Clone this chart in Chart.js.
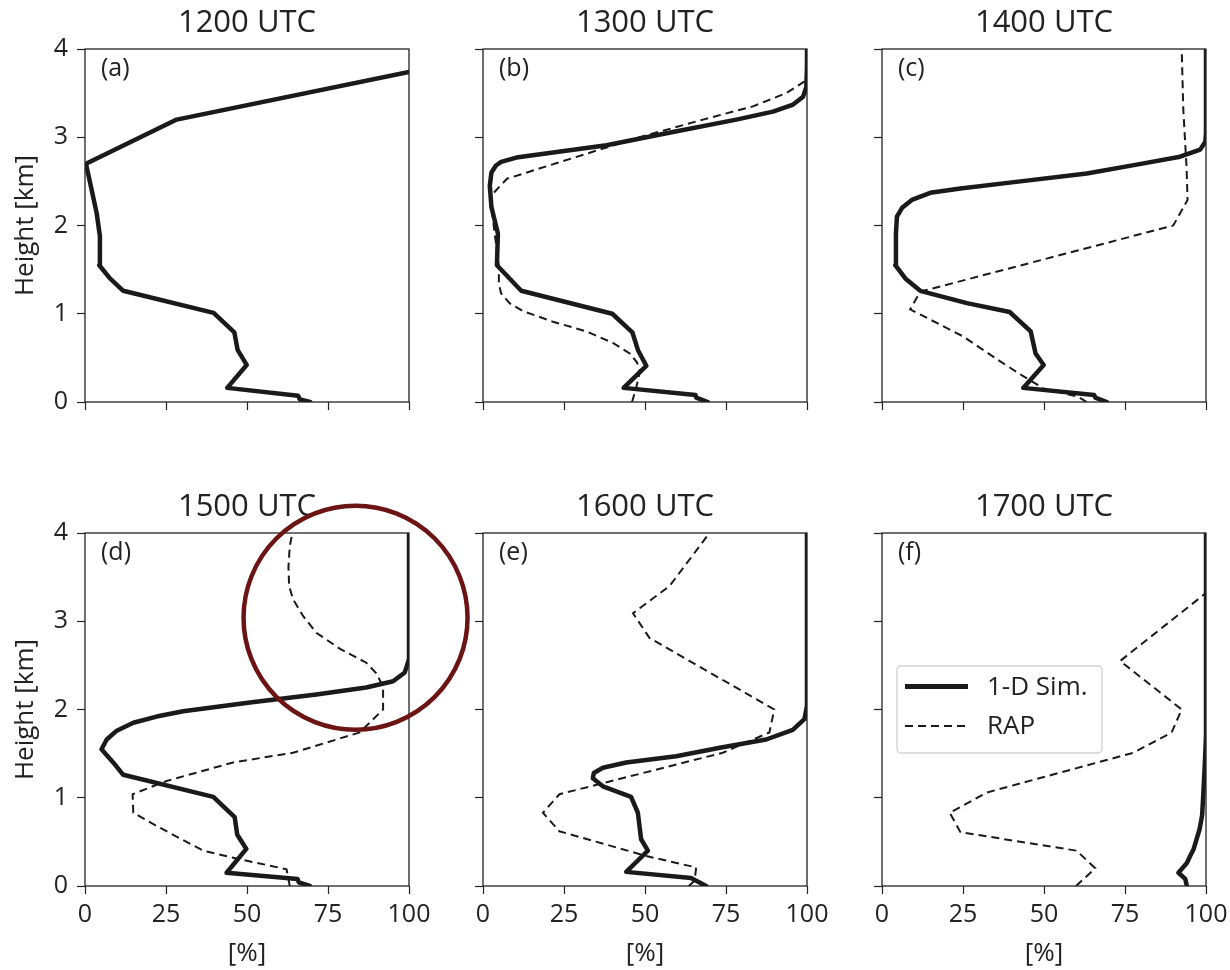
<!DOCTYPE html>
<html>
<head>
<meta charset="utf-8">
<script src="https://cdn.jsdelivr.net/npm/chart.js@4.4.1/dist/chart.umd.min.js"></script>
<style>
  html, body { margin: 0; padding: 0; background: #fff; }
  body { width: 1230px; height: 970px; overflow: hidden; position: relative; }
  canvas { position: absolute; }
</style>
</head>
<body>
<script>
// ---- profile data: height levels [km] and values [%] ----
const simA_height = [0, 0.03, 0.07, 0.16, 0.42, 0.59, 0.79, 1.01, 1.26, 1.40, 1.55, 1.88, 2.14, 2.70, 3.20, 3.74];
const simA_value  = [69.5, 66.3, 65.8, 43.9, 49.9, 47.1, 46.1, 39.7, 11.8, 7.7, 4.4, 4.6, 3.6, 0.3, 28.3, 100];

const simB_height = [0, 0.05, 0.08, 0.16, 0.41, 0.59, 0.79, 1.00, 1.26, 1.55, 1.91, 2.21, 2.45, 2.60, 2.68, 2.72, 2.77, 2.91, 3.06, 3.20, 3.29, 3.37, 3.46, 3.57, 3.80, 4.0];
const simB_value  = [69.4, 65.8, 65.6, 43.4, 50.4, 47.8, 46.1, 39.9, 11.8, 4.3, 4.6, 2.6, 2.1, 2.6, 4.0, 5.6, 10.3, 38.1, 58.6, 78.2, 89.5, 95.7, 98.8, 99.8, 100, 100];
const rapB_height = [0, 0.15, 0.35, 0.45, 0.55, 0.67, 0.80, 0.91, 1.03, 1.12, 1.23, 1.34, 1.54, 1.91, 2.29, 2.37, 2.53, 2.99, 3.20, 3.35, 3.50, 3.65, 4.0];
const rapB_value  = [46.0, 47.2, 48.5, 47.5, 45.3, 40.1, 31.9, 21.6, 12.3, 8.2, 5.6, 4.9, 4.9, 3.6, 2.4, 3.3, 7.4, 47.3, 67.9, 83.3, 93.6, 100, 100];

const simC_height = [0, 0.05, 0.08, 0.16, 0.42, 0.55, 0.80, 1.02, 1.12, 1.26, 1.40, 1.55, 1.90, 2.10, 2.20, 2.29, 2.37, 2.42, 2.50, 2.59, 2.69, 2.78, 2.86, 2.95, 3.05, 4.0];
const simC_value  = [69.4, 65.8, 65.5, 43.6, 49.9, 47.4, 45.9, 39.4, 26.2, 11.8, 7.2, 4.1, 4.3, 4.6, 6.2, 9.2, 14.9, 24.2, 42.7, 63.2, 78.6, 92.0, 98.2, 99.8, 100, 100];
const rapC_height = [0, 0.06, 0.15, 0.20, 0.29, 0.46, 0.74, 1.05, 1.25, 2.00, 2.29, 2.66, 3.31, 4.0];
const rapC_value  = [63.2, 60.5, 50.0, 47.8, 43.7, 36.5, 25.2, 8.7, 11.8, 89.9, 94.3, 94.0, 93.0, 92.5];

const simD_height = [0, 0.04, 0.08, 0.15, 0.42, 0.58, 0.78, 1.01, 1.26, 1.40, 1.55, 1.66, 1.76, 1.85, 1.92, 1.98, 2.08, 2.17, 2.25, 2.32, 2.42, 2.57, 4.0];
const simD_value  = [69.4, 66.0, 65.6, 43.7, 49.8, 47.0, 46.2, 39.6, 11.8, 8.7, 5.1, 6.7, 9.8, 14.9, 22.1, 30.3, 50.9, 71.4, 86.8, 95.1, 98.7, 100, 100];
const rapD_height = [0, 0.19, 0.32, 0.40, 0.66, 0.83, 1.04, 1.19, 1.40, 1.51, 1.74, 2.00, 2.26, 2.41, 2.53, 2.69, 2.87, 3.06, 3.25, 3.40, 3.62, 3.85, 4.0];
const rapD_value  = [63.2, 62.2, 45.7, 36.5, 23.1, 14.9, 14.7, 25.2, 45.7, 64.2, 84.8, 92.0, 92.0, 89.9, 86.8, 78.6, 71.4, 67.3, 64.2, 63.0, 62.8, 63.2, 64.0];

const simE_height = [0, 0.06, 0.09, 0.16, 0.40, 0.53, 0.83, 1.01, 1.13, 1.22, 1.28, 1.34, 1.40, 1.47, 1.57, 1.66, 1.77, 1.89, 2.04, 4.0];
const simE_value  = [68.9, 65.8, 64.2, 44.2, 50.9, 48.8, 47.8, 45.7, 37.0, 33.9, 34.2, 37.0, 44.2, 59.6, 73.5, 87.4, 95.6, 99.2, 100, 100];
const rapE_height = [0, 0.06, 0.21, 0.34, 0.62, 0.83, 1.04, 1.51, 1.74, 2.00, 2.81, 3.09, 3.40, 4.0];
const rapE_value  = [63.5, 65.3, 65.8, 50.4, 23.6, 18.5, 23.6, 74.0, 88.4, 89.9, 51.4, 46.3, 57.6, 69.9];

const simF_height = [0, 0.08, 0.15, 0.26, 0.34, 0.42, 0.53, 0.64, 0.80, 1.06, 1.43, 1.70, 4.0];
const simF_value  = [94.1, 93.6, 91.5, 94.1, 95.1, 96.2, 97.1, 98.0, 98.8, 99.2, 99.7, 100, 100];
const rapF_height = [0, 0.20, 0.40, 0.61, 0.83, 1.06, 1.51, 1.74, 2.00, 2.55, 3.32, 4.0];
const rapF_value  = [59.9, 65.8, 60.1, 24.2, 20.9, 32.4, 77.6, 89.4, 92.5, 73.5, 100, 100];

// ---- labels and ticks ----
const panelTimes = ['1200 UTC', '1300 UTC', '1400 UTC', '1500 UTC', '1600 UTC', '1700 UTC'];
const panelTags  = ['(a)', '(b)', '(c)', '(d)', '(e)', '(f)'];
const seriesNames = ['1-D Sim.', 'RAP'];
const xTicks = [0, 25, 50, 75, 100];
const yTicks = [0, 1, 2, 3, 4];
const xAxisTitle = '[%]';
const yAxisTitle = 'Height [km]';

// highlighted region in panel (d): centre in data units
const highlightCentre = { x: 83.5, y: 3.04 };

const panels = [
  { sim: [simA_height, simA_value], rap: null },
  { sim: [simB_height, simB_value], rap: [rapB_height, rapB_value] },
  { sim: [simC_height, simC_value], rap: [rapC_height, rapC_value] },
  { sim: [simD_height, simD_value], rap: [rapD_height, rapD_value] },
  { sim: [simE_height, simE_value], rap: [rapE_height, rapE_value] },
  { sim: [simF_height, simF_value], rap: [rapF_height, rapF_value] }
];

// ---- layout ----
const FONT = "'Open Sans', 'Noto Sans', sans-serif";
const INK = '#222222';
const LINE = '#1a1a1a';
const PLOT_W = 324, PLOT_H = 353;
const M_LEFT = 85, M_RIGHT = 75, M_TOP = 49, M_BOTTOM = 85;
const colLefts = [0, 398, 797];
const rowTops = [0, 484];

const toPoints = (h, v) => h.map((z, i) => ({ x: v[i], y: z }));

// box around the plotting area
const framePlugin = {
  id: 'frame',
  afterDatasetsDraw(chart) {
    const { ctx, chartArea: a } = chart;
    ctx.save();
    ctx.strokeStyle = INK;
    ctx.lineWidth = 1.3;
    ctx.strokeRect(a.left, a.top, a.right - a.left, a.bottom - a.top);
    ctx.restore();
  }
};

// panel letter in the upper-left corner
const tagPlugin = {
  id: 'tag',
  afterDatasetsDraw(chart, args, opts) {
    const { ctx, chartArea: a } = chart;
    ctx.save();
    ctx.fillStyle = INK;
    ctx.font = `25px ${FONT}`;
    ctx.textBaseline = 'middle';
    ctx.textAlign = 'left';
    ctx.fillText(opts.text, a.left + 16, a.top + 20);
    ctx.restore();
  }
};

// legend with a light rounded frame, centred vertically on the left
const legendBoxPlugin = {
  id: 'legendBox',
  afterDraw(chart, args, opts) {
    if (!opts.show) return;
    const { ctx, chartArea: a } = chart;
    const w = 205, h = 87;
    const x = a.left + 15, y = (a.top + a.bottom) / 2 - h / 2;
    ctx.save();
    ctx.beginPath();
    ctx.roundRect(x, y, w, h, 4);
    ctx.fillStyle = 'rgba(255,255,255,0.85)';
    ctx.fill();
    ctx.strokeStyle = '#d2d2d2';
    ctx.lineWidth = 1.3;
    ctx.stroke();
    chart.data.datasets.forEach((ds, k) => {
      const yy = y + 20.5 + k * 39.5;
      ctx.beginPath();
      ctx.setLineDash(ds.borderDash || []);
      ctx.lineWidth = k === 0 ? 5 : ds.borderWidth;
      ctx.strokeStyle = ds.borderColor;
      ctx.moveTo(x + 8, yy);
      ctx.lineTo(x + 71, yy);
      ctx.stroke();
      ctx.setLineDash([]);
      ctx.fillStyle = INK;
      ctx.font = `26px ${FONT}`;
      ctx.textBaseline = 'middle';
      ctx.textAlign = 'left';
      ctx.fillText(ds.label, x + 90, yy + 1);
    });
    ctx.restore();
  }
};

// dark red ring marking the upper-level difference
const ringPlugin = {
  id: 'ring',
  afterDraw(chart, args, opts) {
    if (!opts.show) return;
    const { ctx, scales } = chart;
    const cx = scales.x.getPixelForValue(highlightCentre.x);
    const cy = scales.y.getPixelForValue(highlightCentre.y);
    ctx.save();
    ctx.beginPath();
    ctx.arc(cx, cy, 112, 0, Math.PI * 2);
    ctx.strokeStyle = '#6c1313';
    ctx.lineWidth = 4.5;
    ctx.stroke();
    ctx.restore();
  }
};

panels.forEach((p, i) => {
  const col = i % 3, row = Math.floor(i / 3);
  const isLeft = col === 0, isBottom = row === 1;
  const W = M_LEFT + PLOT_W + M_RIGHT, H = M_TOP + PLOT_H + M_BOTTOM;
  const canvas = document.createElement('canvas');
  canvas.width = W; canvas.height = H;
  canvas.style.left = colLefts[col] + 'px';
  canvas.style.top = rowTops[row] + 'px';
  canvas.style.width = W + 'px';
  canvas.style.height = H + 'px';
  document.body.appendChild(canvas);

  const datasets = [{
    label: seriesNames[0],
    data: toPoints(p.sim[0], p.sim[1]),
    showLine: true,
    borderColor: LINE,
    borderWidth: 4.5,
    pointRadius: 0,
    order: 1,
    borderJoinStyle: 'round',
    borderCapStyle: 'round'
  }];
  if (p.rap) {
    datasets.push({
      label: seriesNames[1],
      data: toPoints(p.rap[0], p.rap[1]),
      showLine: true,
      borderColor: LINE,
      borderWidth: 2,
      borderDash: [8, 5],
      pointRadius: 0,
      order: 0
    });
  }

  const tickGrid = {
    drawOnChartArea: false,
    drawTicks: true,
    tickLength: 8,
    tickColor: INK,
    tickWidth: 1.2
  };

  new Chart(canvas, {
    type: 'scatter',
    data: { datasets },
    options: {
      responsive: false,
      animation: false,
      events: [],
      devicePixelRatio: 1,
      layout: { padding: { left: 0, right: M_RIGHT, top: 0, bottom: 0 } },
      plugins: {
        legend: { display: false },
        tooltip: { enabled: false },
        title: {
          display: true,
          text: panelTimes[i],
          fullSize: false,
          color: INK,
          font: { family: FONT, size: 31, weight: 'normal', lineHeight: 1.2 },
          padding: { top: 5, bottom: 6.8 }
        },
        tag: { text: panelTags[i] },
        legendBox: { show: i === 5 },
        ring: { show: i === 3 }
      },
      scales: {
        x: {
          type: 'linear',
          min: 0, max: 100,
          afterBuildTicks: s => { s.ticks = xTicks.map(v => ({ value: v })); },
          afterFit: s => { s.height = M_BOTTOM; },
          ticks: {
            display: isBottom,
            color: INK,
            padding: 6,
            maxRotation: 0,
            font: { family: FONT, size: 25, lineHeight: 1.2 }
          },
          grid: tickGrid,
          border: { display: false },
          title: {
            display: isBottom,
            text: xAxisTitle,
            color: INK,
            font: { family: FONT, size: 26, lineHeight: 1.2 },
            padding: { top: 0, bottom: 2 }
          }
        },
        y: {
          type: 'linear',
          min: 0, max: 4,
          afterBuildTicks: s => { s.ticks = yTicks.map(v => ({ value: v })); },
          afterFit: s => { s.width = M_LEFT; },
          ticks: {
            display: isLeft,
            color: INK,
            padding: 9,
            font: { family: FONT, size: 25, lineHeight: 1.2 }
          },
          grid: tickGrid,
          border: { display: false },
          title: {
            display: isLeft,
            text: yAxisTitle,
            color: INK,
            font: { family: FONT, size: 26, lineHeight: 1.2 },
            padding: { top: 10, bottom: 0 }
          }
        }
      }
    },
    plugins: [framePlugin, tagPlugin, legendBoxPlugin, ringPlugin]
  });
});
</script>
</body>
</html>
